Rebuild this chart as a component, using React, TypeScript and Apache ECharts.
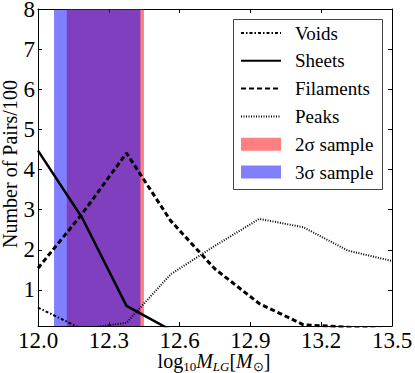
import React, { useEffect, useRef } from 'react';
import * as echarts from 'echarts';

// log10 M_LG bin centres
const massBins = [12.0, 12.1875, 12.375, 12.5625, 12.75, 12.9375, 13.125, 13.3125, 13.5];
// Number of pairs / 100 per environment
const voids = [0.56, 0.02, 0, 0, 0, 0, 0, 0, 0];
const sheets = [4.47, 2.79, 0.6, 0, 0, 0, 0, 0, 0];
const filaments = [1.54, 2.9, 4.41, 2.72, 1.52, 0.66, 0.13, 0.07, 0];
const peaks = [0, 0.03, 0.18, 1.39, 2.1, 2.77, 2.56, 1.98, 1.72];
// sample mass ranges
const sample2sigma = [12.122, 12.449];
const sample3sigma = [12.068, 12.434];
// ticks
const xTicks = [12.0, 12.3, 12.6, 12.9, 13.2, 13.5];
const yTicks = [1, 2, 3, 4, 5, 6, 7, 8];

const FONT = 'Liberation Serif';

const pairs = (ys: number[]) => massBins.map((x, i) => [x, ys[i]]);

export default function App() {
  const ref = useRef<HTMLDivElement>(null);
  useEffect(() => {
    const chart = echarts.init(ref.current!, null, { renderer: 'svg' });
    const tickStyle = { show: true, inside: true, length: 4, lineStyle: { color: '#000', width: 1 } };
    const axisLine = { show: true, onZero: false, lineStyle: { color: '#000', width: 1 } };
    const hideSym = { opacity: 0 };
    const tickRich = { t: { fontFamily: FONT, fontSize: 23, color: '#000', lineHeight: 24 } };
    const titleRich = {
      r: { fontFamily: FONT, fontSize: 20, fill: '#000', lineHeight: 24, verticalAlign: 'middle' },
      i: { fontFamily: FONT, fontSize: 20, fontStyle: 'italic', fill: '#000', lineHeight: 24, verticalAlign: 'middle' },
      s: { fontFamily: FONT, fontSize: 13, fill: '#000', lineHeight: 14, verticalAlign: 'bottom', padding: [6, 0, 0, 0] },
      is: { fontFamily: FONT, fontSize: 13, fontStyle: 'italic', fill: '#000', lineHeight: 14, verticalAlign: 'bottom', padding: [6, 0, 0, 0] },
    };
    const option: any = {
      animation: false,
      backgroundColor: '#fff',
      textStyle: { fontFamily: FONT },
      grid: { left: 38, right: 23, top: 9, bottom: 47, containLabel: false, outerBoundsMode: 'none' },
      xAxis: [
        {
          type: 'value', min: 12.0, max: 13.5, position: 'bottom',
          axisLine, splitLine: { show: false },
          axisTick: { ...tickStyle, customValues: xTicks },
          axisLabel: {
            customValues: xTicks, formatter: (v: number) => '{t|' + v.toFixed(1) + '}',
            rich: tickRich, margin: 2, fontFamily: FONT,
          },
        },
        {
          type: 'value', min: 12.0, max: 13.5, position: 'top',
          axisLine, splitLine: { show: false },
          axisTick: { ...tickStyle, customValues: xTicks },
          axisLabel: { show: false },
        },
      ],
      yAxis: [
        {
          type: 'value', min: 0.1, max: 8, position: 'left',
          axisLine, splitLine: { show: false },
          axisTick: { ...tickStyle, customValues: yTicks },
          axisLabel: {
            customValues: yTicks, formatter: (v: number) => '{t|' + v + '}',
            rich: tickRich, margin: 3, fontFamily: FONT,
          },
        },
        {
          type: 'value', min: 0.1, max: 8, position: 'right',
          axisLine, splitLine: { show: false },
          axisTick: { ...tickStyle, customValues: yTicks },
          axisLabel: { show: false },
        },
      ],
      graphic: [
        {
          type: 'rect', z: 3,
          shape: { x: 233.5, y: 19.5, width: 149, height: 170 },
          style: { fill: '#fff', stroke: '#444', lineWidth: 1 },
        },
        {
          type: 'text', x: 214, y: 361,
          style: {
            text: '{r|log}{s|10}{i|M}{is|LG}{r|[}{i|M}{s|⊙}{r|]}',
            rich: titleRich, align: 'center', verticalAlign: 'middle',
            fontFamily: FONT, fontSize: 20, fill: '#000',
          },
        },
        {
          type: 'text', x: 10, y: 164, rotation: Math.PI / 2,
          style: {
            text: 'Number of Pairs/100', fontFamily: FONT, fontSize: 20, fill: '#000',
            align: 'center', verticalAlign: 'middle',
          },
        },
      ],
      legend: {
        orient: 'vertical', left: 233, top: 19, z: 6,
        padding: [4, 4, 6, 7],
        itemWidth: 40, itemHeight: 13, itemGap: 7.8,
        textStyle: { fontFamily: FONT, fontSize: 19, lineHeight: 20, color: '#000', padding: [0, 0, 0, 9] },
        borderWidth: 0, backgroundColor: 'transparent',
        data: [
          { name: 'Voids', itemStyle: hideSym },
          { name: 'Sheets', itemStyle: hideSym },
          { name: 'Filaments', itemStyle: hideSym },
          { name: 'Peaks', itemStyle: hideSym },
          { name: '2σ sample', icon: 'rect', itemStyle: { color: '#ff8080' } },
          { name: '3σ sample', icon: 'rect', itemStyle: { color: '#8080ff' } },
        ],
      },
      series: [
        {
          name: '2σ sample', type: 'line', data: [], symbol: 'none',
          itemStyle: { color: '#ff8080' }, lineStyle: { color: '#ff8080' },
          markArea: {
            silent: true,
            itemStyle: { color: 'rgba(255,0,0,0.5)' },
            data: [[{ xAxis: sample2sigma[0] }, { xAxis: sample2sigma[1] }]],
          },
        },
        {
          name: '3σ sample', type: 'line', data: [], symbol: 'none',
          itemStyle: { color: '#8080ff' }, lineStyle: { color: '#8080ff' },
          markArea: {
            silent: true,
            itemStyle: { color: 'rgba(0,0,255,0.5)' },
            data: [[{ xAxis: sample3sigma[0] }, { xAxis: sample3sigma[1] }]],
          },
        },
        {
          name: 'Voids', type: 'line', data: pairs(voids), symbol: 'none', z: 5,
          itemStyle: { color: '#000' },
          lineStyle: { color: '#000', width: 2, type: [3, 2, 1.5, 2] },
        },
        {
          name: 'Sheets', type: 'line', data: pairs(sheets), symbol: 'none', z: 5,
          itemStyle: { color: '#000' },
          lineStyle: { color: '#000', width: 2.5, type: 'solid' },
        },
        {
          name: 'Filaments', type: 'line', data: pairs(filaments), symbol: 'none', z: 5,
          itemStyle: { color: '#000' },
          lineStyle: { color: '#000', width: 3, type: [5, 3] },
        },
        {
          name: 'Peaks', type: 'line', data: pairs(peaks), symbol: 'none', z: 5,
          itemStyle: { color: '#000' },
          lineStyle: { color: '#000', width: 2, type: [1, 1.5] },
        },
      ],
    };
    chart.setOption(option);
    return () => chart.dispose();
  }, []);
  return (
    <div
      ref={ref}
      style={{ position: 'fixed', left: 0, top: 0, width: 415, height: 373 }}
    />
  );
}
